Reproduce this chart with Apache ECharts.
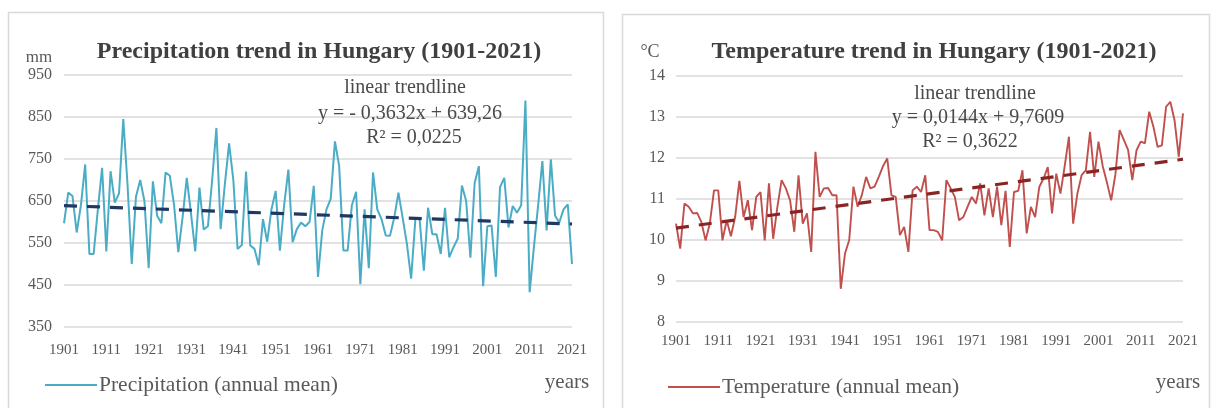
<!DOCTYPE html>
<html>
<head>
<meta charset="utf-8">
<script src="https://cdn.jsdelivr.net/npm/echarts@6/dist/echarts.min.js"></script>
<style>
html,body{margin:0;padding:0;background:#fff;}
#c{width:1213px;height:408px;}
</style>
</head>
<body>
<div id="c"></div>
<script>
// ---- categories ----
const years = [];
for (let y = 1901; y <= 2021; y++) years.push(String(y));

// ---- precipitation (mm), annual mean, 1901-2021 ----
const precipitation = [
  597, 670, 662, 575, 640, 737, 524, 524, 630, 729,
  530, 721, 646, 668, 845, 690, 500, 660, 700, 650,
  490, 697, 615, 597, 718, 710, 640, 528, 610, 705,
  620, 530, 682, 582, 590, 700, 824, 583, 690, 787,
  700, 536, 545, 720, 544, 536, 497, 607, 553, 630,
  674, 532, 640, 725, 552, 583, 599, 590, 600, 686,
  469, 580, 630, 655, 792, 733, 532, 532, 640, 672,
  452, 630, 490, 718, 630, 607, 568, 567, 610, 670,
  610, 548, 465, 607, 607, 484, 634, 571, 571, 524,
  634, 516, 540, 560, 687, 650, 515, 693, 733, 447,
  590, 592, 469, 683, 705, 587, 638, 622, 640, 889,
  433, 540, 640, 745, 580, 749, 615, 599, 630, 642, 500
];

// ---- temperature (°C), annual mean, 1901-2021 ----
const temperature = [
  10.40, 9.79, 10.89, 10.81, 10.65, 10.66, 10.44, 9.99, 10.40, 11.21,
  11.21, 9.99, 10.48, 10.09, 10.56, 11.44, 10.56, 10.97, 10.24, 11.05,
  11.17, 9.99, 11.38, 10.03, 10.81, 11.46, 11.26, 10.97, 10.20, 11.58,
  10.40, 10.65, 9.71, 12.15, 11.05, 11.26, 11.27, 11.09, 11.09, 8.81,
  9.67, 10.00, 11.30, 10.81, 11.10, 11.54, 11.26, 11.30, 11.54, 11.80,
  11.99, 11.09, 11.05, 10.12, 10.32, 9.71, 11.21, 11.30, 11.17, 11.58,
  10.24, 10.24, 10.20, 9.99, 11.46, 11.26, 11.05, 10.48, 10.56, 10.81,
  11.05, 10.89, 11.38, 10.60, 11.26, 10.56, 11.30, 10.36, 11.20, 9.83,
  11.17, 11.20, 11.70, 10.16, 10.81, 10.56, 11.30, 11.50, 11.78, 10.65,
  11.62, 11.13, 11.80, 12.52, 10.40, 11.13, 11.58, 11.70, 12.64, 11.54,
  12.40, 11.80, 11.40, 10.97, 11.60, 12.68, 12.44, 12.20, 11.46, 12.19,
  12.40, 12.36, 13.13, 12.76, 12.27, 12.31, 13.25, 13.37, 12.92, 12.03, 13.09
];

// ---- linear trendline end values, as drawn (first year, last year) ----
const precipTrend = [638.9, 595.3];
const tempTrend = [10.29, 11.97];

// ---- axis ticks ----
const precipTicks = { min: 350, max: 950, step: 100 };
const tempTicks = { min: 8, max: 14, step: 1 };

// ---- texts ----
const titles = ['Precipitation trend in Hungary (1901-2021)', 'Temperature trend in Hungary (1901-2021)'];
const units = ['mm', '°C'];
const seriesNames = ['Precipitation (annual mean)', 'Temperature (annual mean)'];
const precipNote = ['linear trendline', 'y = - 0,3632x + 639,26', 'R² = 0,0225'];
const tempNote = ['linear trendline', 'y = 0,0144x + 9,7609', 'R² = 0,3622'];

const SERIF = '"Liberation Serif", "DejaVu Serif", serif';
const TXT = '#595959';
const GRID = '#d9d9d9';

const last = years.length - 1;

function xAxis(gi, margin) {
  return {
    type: 'category', gridIndex: gi, data: years, boundaryGap: false,
    axisLine: { show: false }, axisTick: { show: false },
    axisLabel: { interval: 9, color: TXT, fontFamily: SERIF, fontSize: 15, margin: margin }
  };
}
function yAxis(gi, t, margin) {
  return {
    type: 'value', gridIndex: gi, min: t.min, max: t.max, interval: t.step,
    axisLine: { show: false }, axisTick: { show: false },
    axisLabel: { color: TXT, fontFamily: SERIF, fontSize: 16, margin: margin },
    splitLine: { lineStyle: { color: GRID, width: 1.5 } }
  };
}
function note(lines, xs, ys) {
  return lines.map((s, i) => ({
    type: 'text', x: xs[i], y: ys[i], z: 10,
    style: { text: s, fill: '#4a4a4a', font: '20px ' + SERIF, textAlign: 'center', textVerticalAlign: 'middle' }
  }));
}

const chart = echarts.init(document.getElementById('c'), null, { renderer: 'canvas' });
chart.setOption({
  backgroundColor: '#ffffff',
  animation: false,
  title: [
    { text: titles[0], left: 314, top: 47, textAlign: 'center', textVerticalAlign: 'middle',
      textStyle: { fontFamily: SERIF, fontWeight: 'bold', fontSize: 24, color: '#404040' } },
    { text: titles[1], left: 929, top: 47, textAlign: 'center', textVerticalAlign: 'middle',
      textStyle: { fontFamily: SERIF, fontWeight: 'bold', fontSize: 24, color: '#404040' } }
  ],
  grid: [
    { left: 64, right: 1213 - 572, top: 75, bottom: 408 - 327 },
    { left: 676, right: 1213 - 1183, top: 76, bottom: 408 - 322 }
  ],
  xAxis: [xAxis(0, 16), xAxis(1, 12)],
  yAxis: [yAxis(0, precipTicks, 12), yAxis(1, tempTicks, 11)],
  legend: [
    { data: [seriesNames[0]], left: 40, top: 369, icon: 'rect', itemWidth: 52, itemHeight: 2, itemGap: 0,
      textStyle: { fontFamily: SERIF, fontSize: 21.5, color: TXT, padding: [0, 0, 0, -3] } },
    { data: [seriesNames[1]], left: 663, top: 371, icon: 'rect', itemWidth: 52, itemHeight: 2, itemGap: 0,
      textStyle: { fontFamily: SERIF, fontSize: 21.5, color: TXT, padding: [0, 0, 0, -3] } }
  ],
  series: [
    { name: seriesNames[0], type: 'line', xAxisIndex: 0, yAxisIndex: 0, data: precipitation,
      showSymbol: false, symbol: 'none', color: '#4bacc6', lineStyle: { color: '#4bacc6', width: 2 } },
    { name: 'precipTrend', type: 'line', xAxisIndex: 0, yAxisIndex: 0,
      data: [[0, precipTrend[0]], [last, precipTrend[1]]], showSymbol: false, symbol: 'none',
      lineStyle: { color: '#1f3864', width: 3.2, type: [13, 10] }, z: 5 },
    { name: seriesNames[1], type: 'line', xAxisIndex: 1, yAxisIndex: 1, data: temperature,
      showSymbol: false, symbol: 'none', color: '#c0504d', lineStyle: { color: '#c0504d', width: 1.9 } },
    { name: 'tempTrend', type: 'line', xAxisIndex: 1, yAxisIndex: 1,
      data: [[0, tempTrend[0]], [last, tempTrend[1]]], showSymbol: false, symbol: 'none',
      lineStyle: { color: '#8b2525', width: 3.2, type: [13, 10] }, z: 5 }
  ],
  graphic: [
    { type: 'rect', shape: { x: 8.5, y: 12.5, width: 595, height: 420 }, z: -1,
      style: { fill: '#fff', stroke: GRID, lineWidth: 1.5 } },
    { type: 'rect', shape: { x: 622.5, y: 14.5, width: 587, height: 420 }, z: -1,
      style: { fill: '#fff', stroke: GRID, lineWidth: 1.5 } },
    { type: 'text', x: 39, y: 58, style: { text: units[0], fill: TXT, font: '17px ' + SERIF, textAlign: 'center', textVerticalAlign: 'middle' } },
    { type: 'text', x: 650, y: 52, style: { text: units[1], fill: TXT, font: '18px ' + SERIF, textAlign: 'center', textVerticalAlign: 'middle' } },
    { type: 'text', x: 567, y: 382, style: { text: 'years', fill: TXT, font: '21px ' + SERIF, textAlign: 'center', textVerticalAlign: 'middle' } },
    { type: 'text', x: 1178, y: 382, style: { text: 'years', fill: TXT, font: '21px ' + SERIF, textAlign: 'center', textVerticalAlign: 'middle' } }
  ].concat(note(precipNote, [405, 410, 414], [88, 114, 138]), note(tempNote, [975, 978, 970], [94, 118, 142]))
});
</script>
</body>
</html>
